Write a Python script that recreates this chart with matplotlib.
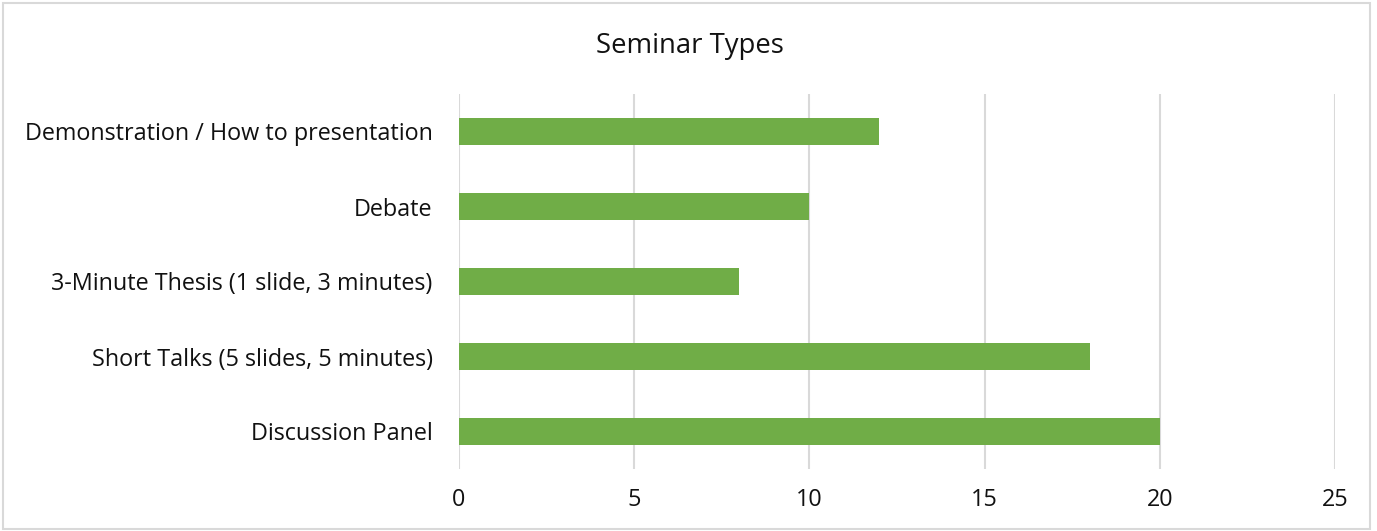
import matplotlib
matplotlib.use("Agg")
import matplotlib.pyplot as plt
from matplotlib.patches import Rectangle

# data
categories = ["Discussion Panel", "Short Talks (5 slides, 5 minutes)",
              "3-Minute Thesis (1 slide, 3 minutes)", "Debate",
              "Demonstration / How to presentation"]
counts = [20, 18, 8, 10, 12]
x_ticks = [0, 5, 10, 15, 20, 25]

plt.rcParams['font.family'] = ['Open Sans', 'DejaVu Sans']

fig = plt.figure(figsize=(13.77, 5.31), dpi=100)
ax = fig.add_axes([459/1377, 1-469/531, 876/1377, 375/531])

ax.barh(range(len(categories)), counts, height=0.36, color='#70AD47', zorder=3)

ax.set_xlim(0, 25)
ax.set_ylim(-0.5, len(categories)-0.5)
ax.set_xticks(x_ticks)
ax.set_yticks(range(len(categories)))
ax.set_yticklabels(categories)
ax.tick_params(axis='both', length=0, labelsize=16.8, colors='#111111')
ax.tick_params(axis='x', pad=14)
ax.tick_params(axis='y', pad=19)
ax.grid(axis='x', color='#D9D9D9', linewidth=1.5, zorder=0)
for s in ax.spines.values():
    s.set_visible(False)

fig.text(690/1377, 1-46/531, "Seminar Types", ha='center', va='center',
         fontsize=19.8, color='#111111')

fig.patches.append(Rectangle((0.002, 0.004), 0.993, 0.99, transform=fig.transFigure,
                             fill=False, edgecolor='#D9D9D9', linewidth=1.5))

plt.savefig("out.png", dpi=100)
